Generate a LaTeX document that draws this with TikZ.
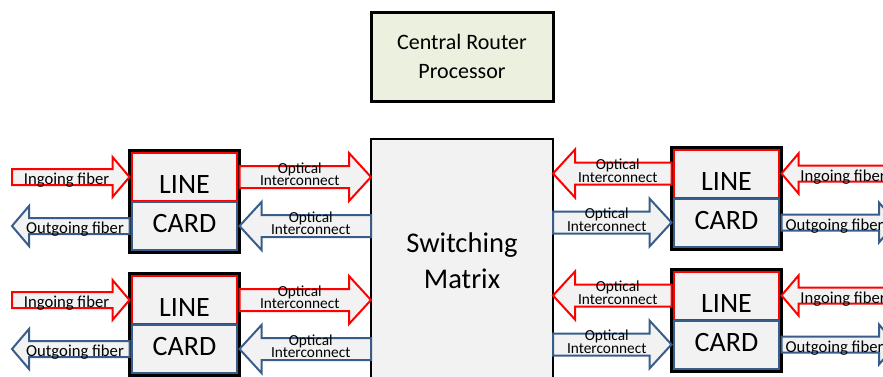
\documentclass[tikz,border=0pt]{standalone}
\usepackage{fontspec}
\setmainfont{Carlito}
\usetikzlibrary{positioning,calc}
\definecolor{cardgray}{HTML}{F2F2F2}
\definecolor{cpugreen}{HTML}{EBF1DE}
\definecolor{cardblue}{HTML}{385D8A}
\tikzstyle{card} = [draw, line width=2.25pt, fill=cardgray, minimum width=82.5pt, minimum height=76.5pt, inner sep=0pt, outer sep=0pt, align=center, font=\fontsize{21}{29}\selectfont]
\tikzstyle{upper} = [draw=red, line width=1.5pt, minimum width=79pt, minimum height=36pt, inner sep=0pt, outer sep=0pt]
\tikzstyle{lower} = [draw=cardblue, line width=1.5pt, minimum width=79pt, minimum height=36pt, inner sep=0pt, outer sep=0pt]
\tikzstyle{switchbox} = [draw, line width=2pt, fill=cardgray, minimum width=136.5pt, minimum height=182.25pt, outer sep=0pt, align=center, font=\fontsize{21.4}{27}\selectfont]
\tikzstyle{cpubox} = [draw, line width=2.25pt, fill=cpugreen, minimum width=136.5pt, minimum height=66.75pt, outer sep=0pt, align=center, font=\fontsize{16.5}{22}\selectfont]
\tikzstyle{Block} = [line width=1.5pt, fill=cardgray]
\tikzstyle{fibertext} = [inner sep=0pt, yshift=-2.5pt, font=\fontsize{12.5}{14}\selectfont]
\tikzstyle{optictext} = [inner sep=0pt, yshift=2.2pt, align=center, font=\fontsize{11.5}{9.5}\selectfont]

% card label, pushed a little below the middle
\newcommand{\cardtext}{\rule{0pt}{17.8pt}LINE\\CARD}

% half shaft, half head, head length, text style, colour, tail, tip, text
\newcommand{\blockarrow}[8]{
  \coordinate (ba-b) at ($(#7)!#3!(#6)$);
  \coordinate (ba-m) at ($(#7)!0.5*#3!(#6)$);
  \draw[Block, draw=#5] ($(#6)!#1!90:(#7)$) -- ($(ba-b)!#1!90:(#7)$) -- ($(ba-b)!#2!90:(#7)$) -- (#7)
    -- ($(ba-b)!#2!-90:(#7)$) -- ($(ba-b)!#1!-90:(#7)$) -- ($(#6)!#1!-90:(#7)$) -- cycle;
  \node[#4] at ($(#6)!0.5!(ba-m)$) {#8};
}
\newcommand{\fiberarrow}[4]{\blockarrow{6pt}{15pt}{12.75pt}{fibertext}{#1}{#2}{#3}{#4}}
\newcommand{\opticarrow}[4]{\blockarrow{8.25pt}{18pt}{16.5pt}{optictext}{#1}{#2}{#3}{#4}}

\begin{document}
\begin{tikzpicture}[x=0.75pt, y=-0.75pt]
  \useasboundingbox (0,0) rectangle (883,376);
  %%%%% Router core %%%%%
  \node (S) [switchbox] at (462,260.5) {Switching\\Matrix};
  \node (P) [cpubox, above=28.5pt of S] {Central Router\\Processor};

  %%%%% Line cards %%%%%
  \node (L1) [card] at (184.5,201.5) {\cardtext};
  \node (L1a) [upper, below=1.875pt of L1.north] {};
  \node (L1b) [lower, below=0.75pt of L1a] {};
  \node (L2) [card] at (184.5,324.5) {\cardtext};
  \node (L2a) [upper, below=1.875pt of L2.north] {};
  \node (L2b) [lower, below=0.75pt of L2a] {};
  \node (R1) [card] at (726.5,198) {\cardtext};
  \node (R1a) [upper, below=1.875pt of R1.north] {};
  \node (R1b) [lower, below=0.75pt of R1a] {};
  \node (R2) [card] at (726.5,320) {\cardtext};
  \node (R2a) [upper, below=1.875pt of R2.north] {};
  \node (R2b) [lower, below=0.75pt of R2a] {};

  \coordinate (W) at (12,0);
  \coordinate (E) at (896,0);

  %%%%% Left side %%%%%
  \fiberarrow{red}{W |- L1a.west}{L1.west |- L1a.west}{Ingoing fiber}
  \fiberarrow{cardblue}{L1.west |- L1b.west}{W |- L1b.west}{Outgoing fiber}
  \opticarrow{red}{L1.east |- L1a.east}{S.west |- L1a.east}{Optical\\Interconnect}
  \opticarrow{cardblue}{S.west |- L1b.east}{L1.east |- L1b.east}{Optical\\Interconnect}

  \fiberarrow{red}{W |- L2a.west}{L2.west |- L2a.west}{Ingoing fiber}
  \fiberarrow{cardblue}{L2.west |- L2b.west}{W |- L2b.west}{Outgoing fiber}
  \opticarrow{red}{L2.east |- L2a.east}{S.west |- L2a.east}{Optical\\Interconnect}
  \opticarrow{cardblue}{S.west |- L2b.east}{L2.east |- L2b.east}{Optical\\Interconnect}

  %%%%% Right side %%%%%
  \opticarrow{red}{R1.west |- R1a.west}{S.east |- R1a.west}{Optical\\Interconnect}
  \opticarrow{cardblue}{S.east |- R1b.west}{R1.west |- R1b.west}{Optical\\Interconnect}
  \fiberarrow{red}{E |- R1a.east}{R1.east |- R1a.east}{Ingoing fiber}
  \fiberarrow{cardblue}{R1.east |- R1b.east}{E |- R1b.east}{Outgoing fiber}

  \opticarrow{red}{R2.west |- R2a.west}{S.east |- R2a.west}{Optical\\Interconnect}
  \opticarrow{cardblue}{S.east |- R2b.west}{R2.west |- R2b.west}{Optical\\Interconnect}
  \fiberarrow{red}{E |- R2a.east}{R2.east |- R2a.east}{Ingoing fiber}
  \fiberarrow{cardblue}{R2.east |- R2b.east}{E |- R2b.east}{Outgoing fiber}
\end{tikzpicture}
\end{document}
